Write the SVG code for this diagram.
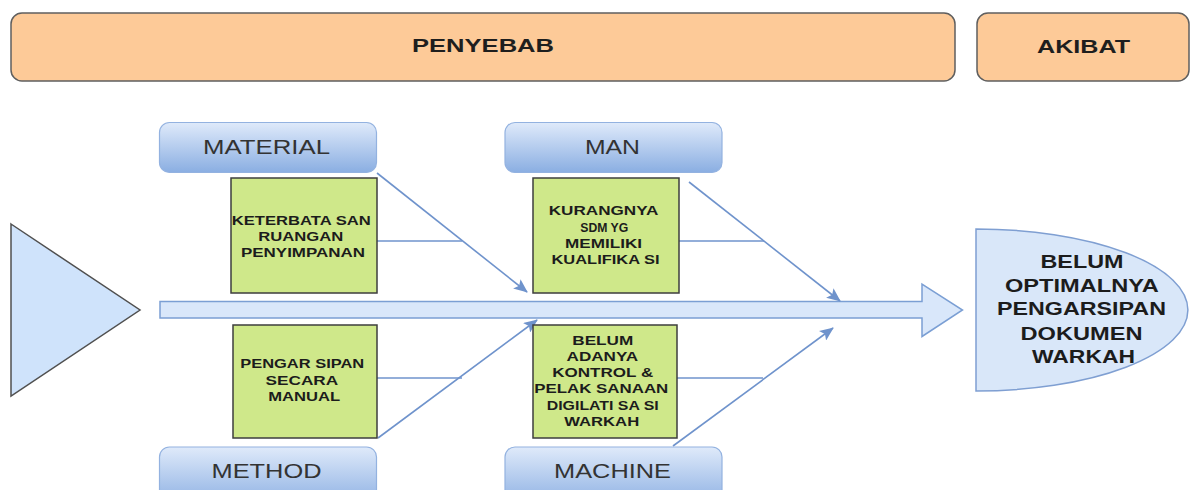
<svg xmlns="http://www.w3.org/2000/svg" width="1190" height="490" viewBox="0 0 1190 490">
<defs>
<linearGradient id="blueGrad" x1="0" y1="0" x2="0" y2="1">
<stop offset="0" stop-color="#dfeafa"/>
<stop offset="1" stop-color="#8aaee2"/>
</linearGradient>
<marker id="ah" viewBox="0 0 14 12" refX="13" refY="6" markerWidth="14" markerHeight="12" markerUnits="userSpaceOnUse" orient="auto">
<path d="M0,0 L14,6 L0,12 L3,6 Z" fill="#6f93cc"/>
</marker>
</defs>
<style>
.hdr{fill:#fdca98;stroke:#5f5f5f;stroke-width:1.5}
.hdrt{font-family:"Liberation Sans",Arial,sans-serif;font-weight:bold;fill:#1e1e1e}
.cat{fill:url(#blueGrad);stroke:#93b2e0;stroke-width:1.2}
.catt{font-family:"Liberation Sans",Arial,sans-serif;font-size:21px;fill:#333}
.cause{fill:#cfe88a;stroke:#3e3e3e;stroke-width:1.5}
.ct{font-family:"Liberation Sans",Arial,sans-serif;font-size:12.5px;font-weight:bold;fill:#1c1c1c}
.et{font-family:"Liberation Sans",Arial,sans-serif;font-size:18px;font-weight:bold;fill:#1c1c1c}
.conn{stroke:#6f93cc;stroke-width:1.6;fill:none}
</style>

<g id="penyebab">
<rect class="hdr" x="11" y="13" width="944" height="68" rx="11"/>
<text class="hdrt" x="483" y="52.3" font-size="19" text-anchor="middle" textLength="142" lengthAdjust="spacingAndGlyphs">PENYEBAB</text>
</g>
<g id="akibat">
<rect class="hdr" x="977" y="13" width="212" height="68" rx="11"/>
<text class="hdrt" x="1083.5" y="53" font-size="19" text-anchor="middle" textLength="93" lengthAdjust="spacingAndGlyphs">AKIBAT</text>
</g>

<g id="head">
<polygon points="11,224 140,310 11,396" fill="#cfe3fb" stroke="#505050" stroke-width="1.5"/>
</g>

<g id="spine">
<polygon points="160,301.5 922,301.5 922,284 962.5,310 922,336.5 922,318 160,318" fill="#d9e7fa" stroke="#7b9fd4" stroke-width="1.5"/>
</g>

<g id="effect">
<path d="M976,229 A212,81 0 0 1 976,391 Z" fill="#d9e7f9" stroke="#7f9fd2" stroke-width="1.5"/>
<text class="et" text-anchor="middle">
<tspan x="1084.5" y="268.3" textLength="83" lengthAdjust="spacingAndGlyphs">BELUM</tspan>
<tspan x="1084" y="291.7" textLength="153" lengthAdjust="spacingAndGlyphs">OPTIMALNYA</tspan>
<tspan x="1084" y="315" textLength="169" lengthAdjust="spacingAndGlyphs">PENGARSIPAN</tspan>
<tspan x="1084" y="340" textLength="122" lengthAdjust="spacingAndGlyphs">DOKUMEN</tspan>
<tspan x="1083.5" y="363.3" textLength="103" lengthAdjust="spacingAndGlyphs">WARKAH</tspan>
</text>
</g>

<g id="connectors">
<line class="conn" x1="377" y1="173" x2="527" y2="292" marker-end="url(#ah)"/>
<line class="conn" x1="689" y1="182" x2="840" y2="301" marker-end="url(#ah)"/>
<line class="conn" x1="378" y1="438" x2="537" y2="320" marker-end="url(#ah)"/>
<line class="conn" x1="673" y1="446" x2="833" y2="328" marker-end="url(#ah)"/>
<line class="conn" x1="377" y1="241" x2="462" y2="241"/>
<line class="conn" x1="679" y1="241" x2="764" y2="241"/>
<line class="conn" x1="377" y1="378" x2="462" y2="378"/>
<line class="conn" x1="677" y1="378" x2="763" y2="378"/>
</g>

<g id="material">
<rect class="cat" x="159.5" y="122.5" width="217" height="50" rx="10"/>
<text class="catt" x="266.5" y="154" text-anchor="middle" textLength="127" lengthAdjust="spacingAndGlyphs">MATERIAL</text>
</g>
<g id="man">
<rect class="cat" x="505" y="122.5" width="217" height="50" rx="10"/>
<text class="catt" x="612.5" y="153.5" text-anchor="middle" textLength="55" lengthAdjust="spacingAndGlyphs">MAN</text>
</g>
<g id="method">
<rect class="cat" x="159.5" y="447" width="217" height="60" rx="10"/>
<text class="catt" x="266.5" y="478" text-anchor="middle" textLength="110" lengthAdjust="spacingAndGlyphs">METHOD</text>
</g>
<g id="machine">
<rect class="cat" x="505" y="447" width="217" height="60" rx="10"/>
<text class="catt" x="612.5" y="478" text-anchor="middle" textLength="117" lengthAdjust="spacingAndGlyphs">MACHINE</text>
</g>

<g id="cause-material">
<rect class="cause" x="231" y="178" width="146" height="115"/>
<text class="ct" text-anchor="middle">
<tspan x="303" y="224.5" textLength="139" lengthAdjust="spacingAndGlyphs">KETERBATA SAN</tspan>
<tspan x="302.5" y="240.7" textLength="85" lengthAdjust="spacingAndGlyphs">RUANGAN</tspan>
<tspan x="303" y="256.7" textLength="124" lengthAdjust="spacingAndGlyphs">PENYIMPANAN</tspan>
</text>
</g>
<g id="cause-man">
<rect class="cause" x="533" y="178" width="146" height="115"/>
<text class="ct" text-anchor="middle">
<tspan x="605" y="215" textLength="109" lengthAdjust="spacingAndGlyphs">KURANGNYA</tspan>
<tspan x="606" y="231.7" textLength="48" lengthAdjust="spacingAndGlyphs">SDM YG</tspan>
<tspan x="605.3" y="248.3" textLength="77" lengthAdjust="spacingAndGlyphs">MEMILIKI</tspan>
<tspan x="605.5" y="264.3" textLength="108" lengthAdjust="spacingAndGlyphs">KUALIFIKA SI</tspan>
</text>
</g>
<g id="cause-method">
<rect class="cause" x="233" y="325" width="144" height="113"/>
<text class="ct" text-anchor="middle">
<tspan x="304" y="368.3" textLength="124" lengthAdjust="spacingAndGlyphs">PENGAR SIPAN</tspan>
<tspan x="303.3" y="385" textLength="72" lengthAdjust="spacingAndGlyphs">SECARA</tspan>
<tspan x="304.2" y="400.7" textLength="72" lengthAdjust="spacingAndGlyphs">MANUAL</tspan>
</text>
</g>
<g id="cause-machine">
<rect class="cause" x="533" y="325" width="144" height="113"/>
<text class="ct" text-anchor="middle">
<tspan x="604.5" y="345" textLength="61" lengthAdjust="spacingAndGlyphs">BELUM</tspan>
<tspan x="603.8" y="360.7" textLength="71" lengthAdjust="spacingAndGlyphs">ADANYA</tspan>
<tspan x="604.5" y="376.7" textLength="101" lengthAdjust="spacingAndGlyphs">KONTROL &amp;</tspan>
<tspan x="603" y="393.3" textLength="134" lengthAdjust="spacingAndGlyphs">PELAK SANAAN</tspan>
<tspan x="604.5" y="410" textLength="112" lengthAdjust="spacingAndGlyphs">DIGILATI SA SI</tspan>
<tspan x="601.7" y="426" textLength="75" lengthAdjust="spacingAndGlyphs">WARKAH</tspan>
</text>
</g>
</svg>
